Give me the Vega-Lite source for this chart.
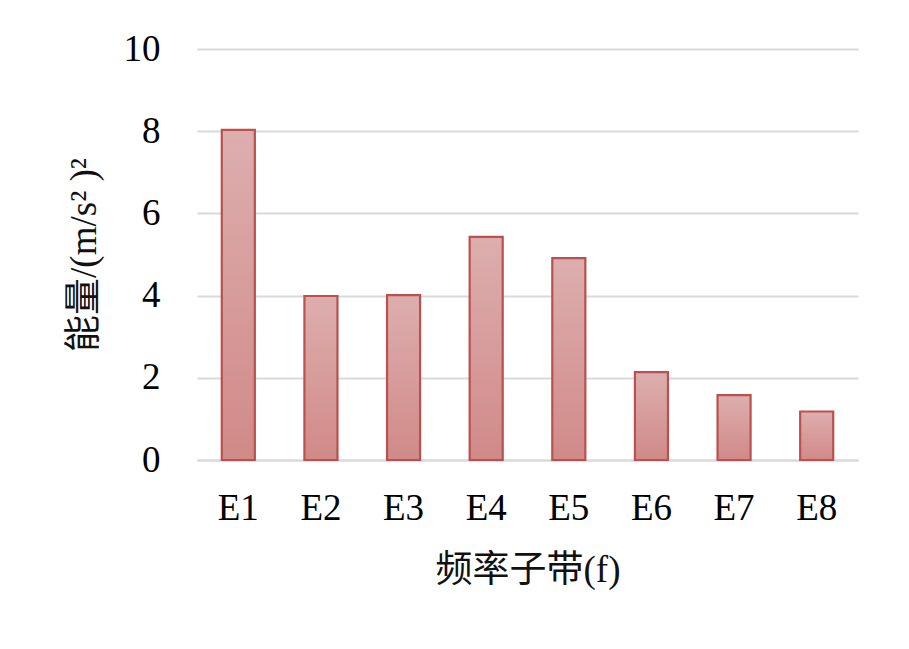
{
  "$schema": "https://vega.github.io/schema/vega-lite/v6.json",
  "width": 661,
  "height": 411,
  "autosize": {"type": "none"},
  "padding": {"left": 197, "top": 49, "right": 51, "bottom": 189},
  "background": "white",
  "config": {"view": {"stroke": null}, "font": "Liberation Serif"},
  "data": {"values": [
    {"band": "E1", "energy": 8.03},
    {"band": "E2", "energy": 3.99},
    {"band": "E3", "energy": 4.01},
    {"band": "E4", "energy": 5.43},
    {"band": "E5", "energy": 4.91},
    {"band": "E6", "energy": 2.14},
    {"band": "E7", "energy": 1.58},
    {"band": "E8", "energy": 1.18}
  ]},
  "mark": {
    "type": "bar",
    "stroke": "#bb504e",
    "strokeWidth": 2.2,
    "color": {
      "gradient": "linear", "x1": 0, "y1": 0, "x2": 0, "y2": 1,
      "stops": [{"offset": 0, "color": "#ddaeae"}, {"offset": 1, "color": "#d08a88"}]
    }
  },
  "encoding": {
    "x": {
      "field": "band", "type": "nominal", "sort": null,
      "scale": {"paddingInner": 0.6, "paddingOuter": 0.3},
      "axis": {
        "title": "频率子带(f)", "titleFont": "Liberation Serif, Noto Sans CJK SC", "titleFontSize": 37, "titleFontWeight": "normal", "titleColor": "#111", "titlePadding": 26,
        "labelAngle": 0, "labelFontSize": 37, "labelColor": "#000", "labelPadding": 30,
        "ticks": false, "domain": true, "domainColor": "#d9d9d9", "domainWidth": 2
      }
    },
    "y": {
      "field": "energy", "type": "quantitative",
      "scale": {"domain": [0, 10]},
      "axis": {
        "title": "能量/(m/s² )²", "titleFont": "Liberation Serif, Noto Sans CJK SC", "titleFontSize": 37, "titleFontWeight": "normal", "titleColor": "#111", "titlePadding": 20,
        "values": [0, 2, 4, 6, 8, 10], "labelFontSize": 37, "labelColor": "#000", "labelPadding": 37,
        "ticks": false, "domain": false, "grid": true, "gridColor": "#d9d9d9", "gridWidth": 2
      }
    }
  }
}
